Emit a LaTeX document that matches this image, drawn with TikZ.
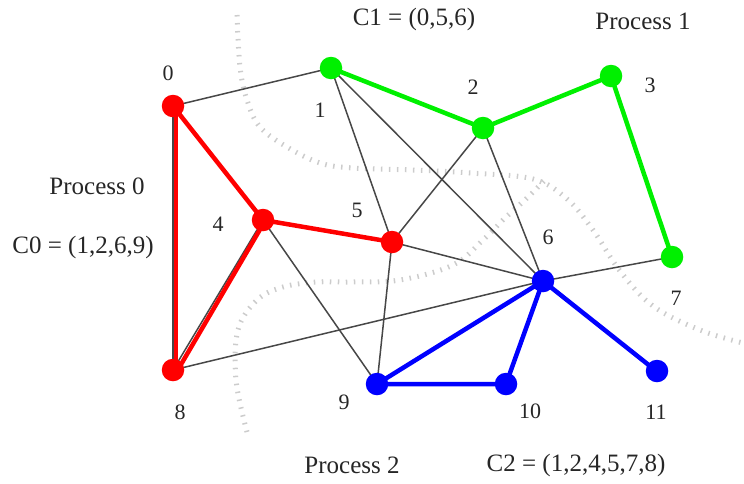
\documentclass[tikz,border=0pt]{standalone}
\usepackage{fontspec}
\setmainfont{Liberation Serif}
\pgfdeclarelayer{back}
\pgfdeclarelayer{edges}
\pgfsetlayers{back,edges,main}
\begin{document}
\begin{tikzpicture}[x=1pt,y=-1pt,
  vtx/.style={circle,inner sep=0pt,minimum size=22.5pt},
  pzero/.style={vtx,fill=red},
  pone/.style={vtx,fill={rgb,255:red,0;green,240;blue,0}},
  ptwo/.style={vtx,fill=blue},
  link/.style={draw=black!72,line width=1.5pt},
  redlink/.style={draw=red,line width=4.5pt},
  greenlink/.style={draw={rgb,255:red,0;green,240;blue,0},line width=4.5pt},
  bluelink/.style={draw=blue,line width=4.5pt},
  border/.style={draw=black!20,line width=5pt,dash pattern=on 1.5pt off 6.5pt},
  num/.style={font=\fontsize{22}{26}\selectfont,text=black!85},
  caption/.style={font=\fontsize{25}{30}\selectfont,text=black!85}
]
\useasboundingbox (0,0) rectangle (744,483);

% vertices
\node[pzero] (n0)  at (173,106) {};
\node[pone]  (n1)  at (331,68)  {};
\node[pone]  (n2)  at (483,128) {};
\node[pone]  (n3)  at (611,76)  {};
\node[pzero] (n4)  at (263,220) {};
\node[pzero] (n5)  at (392,242) {};
\node[ptwo]  (n6)  at (543,281) {};
\node[pone]  (n7)  at (672,257) {};
\node[pzero] (n8)  at (173,370) {};
\node[ptwo]  (n9)  at (377,384) {};
\node[ptwo]  (n10) at (506,384) {};
\node[ptwo]  (n11) at (657,371) {};

% vertex numbers
\node[num] (l0)  at (168,73)  {0};
\node[num] (l1)  at (320,110) {1};
\node[num] (l2)  at (473,87)  {2};
\node[num] (l3)  at (650,85)  {3};
\node[num] (l4)  at (218,224) {4};
\node[num] (l5)  at (357,210) {5};
\node[num] (l6)  at (548,237) {6};
\node[num] (l7)  at (676,298) {7};
\node[num] (l8)  at (180,412) {8};
\node[num] (l9)  at (344,402) {9};
\node[num] (l10) at (530,411) {10};
\node[num] (l11) at (656,412) {11};

% process captions
\node[caption] (c0) at (97,186)  {Process 0};
\node[caption] (k0) at (83,247)  {C0 = (1,2,6,9)};
\node[caption] (k1) at (414,19)  {C1 = (0,5,6)};
\node[caption] (c1) at (643,21)  {Process 1};
\node[caption] (c2) at (352,465) {Process 2};
\node[caption] (k2) at (576,465) {C2 = (1,2,4,5,7,8)};

% partition borders
\begin{pgfonlayer}{back}
\draw[border] plot[smooth,tension=0.6] coordinates {
  (237,15) (240,67) (247,100) (260,127) (287,147) (320,163) (353,168)
  (413,170) (470,173) (533,179) (567,199) (593,230) (620,271)
  (653,306) (700,330) (743,343)};
\draw[border] plot[smooth,tension=0.6] coordinates {
  (247,432) (236,380) (238,330) (257,300) (283,287) (317,282) (350,282)
  (400,280) (453,265) (483,240) (505,218) (527,198) (545,180)};
\end{pgfonlayer}

% edges
\begin{pgfonlayer}{edges}
\foreach \a/\b in {n0/n1,n0/n8,n4/n8,n1/n5,n1/n6,n2/n5,n2/n6,n4/n9,n5/n6,
                   n5/n9,n8/n6,n6/n7,n6/n11,n1/n2,n2/n3,n3/n7,n0/n4,n4/n5,
                   n9/n10,n10/n6,n6/n9}
  \draw[link] (\a.center) -- (\b.center);
\draw[redlink] ([xshift=3pt]n0.center) -- ([xshift=3pt]n8.center);
\draw[redlink] ([xshift=2.5pt]n4.center) -- ([xshift=3pt,yshift=-3pt]n8.center);
\draw[redlink] (n0.center) -- (n4.center) -- (n5.center);
\draw[greenlink] (n1.center) -- (n2.center) -- (n3.center) -- (n7.center);
\draw[bluelink] (n9.center) -- (n10.center) -- (n6.center) -- (n9.center);
\draw[bluelink] (n6.center) -- ([shift={(-2pt,1pt)}]n11.center);
\end{pgfonlayer}
\end{tikzpicture}
\end{document}
